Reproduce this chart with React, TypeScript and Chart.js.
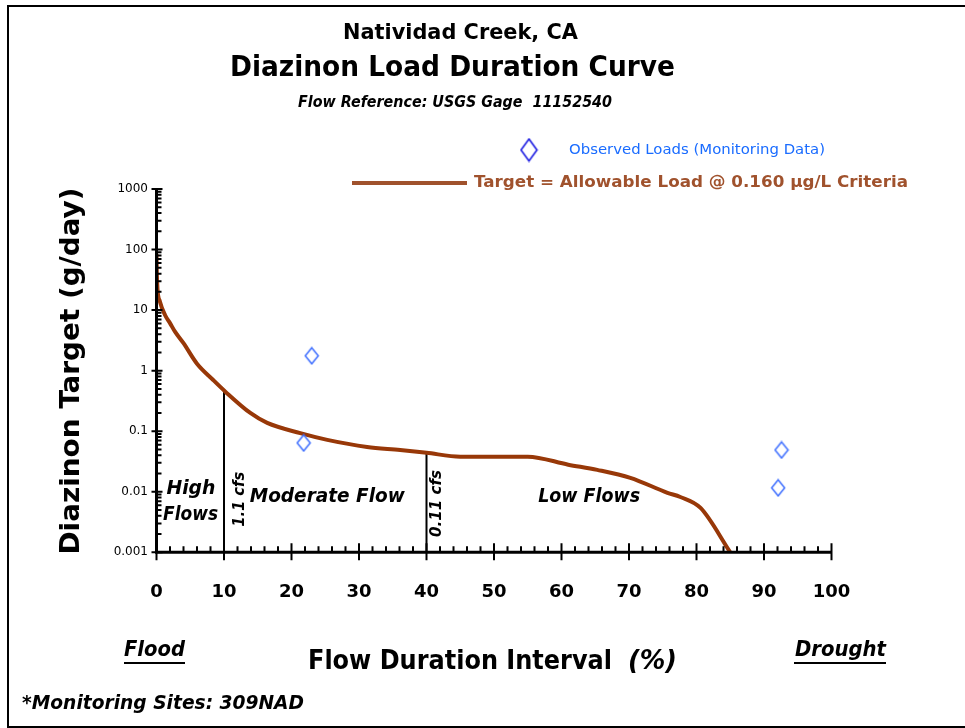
import React, { useEffect, useRef } from "react";
import { Chart, registerables } from "chart.js";

Chart.register(...registerables);

const FONT = '"DejaVu Sans", "Noto Sans", sans-serif';

// Target = allowable load curve (flow duration % vs g/day)
const flowPct = [0, 0.05, 0.15, 0.5, 1.26, 2, 2.74, 4, 6, 8.4, 10.2, 13.9, 16.4, 21.3, 25.3, 31.2, 36.1, 40, 45, 55, 61, 65.3, 70.2, 75.7, 77.6, 80.6, 85];
const targetLoad = [85, 40, 22, 13.9, 8.3, 6.1, 4.4, 2.84, 1.3, 0.7, 0.45, 0.2, 0.137, 0.093, 0.072, 0.055, 0.049, 0.044, 0.038, 0.038, 0.028, 0.023, 0.017, 0.0096, 0.0082, 0.0054, 0.001];

// Observed loads (monitoring data)
const obsPct = [23, 21.8, 92.6, 92.1];
const obsLoad = [1.76, 0.064, 0.049, 0.0116];

// Flow zone boundaries
const boundaryPct = [10, 40];
const boundaryTop = [0.45, 0.044];

const xTickValues = [0, 10, 20, 30, 40, 50, 60, 70, 80, 90, 100];
const yTickLabels = ["0.001", "0.01", "0.1", "1", "10", "100", "1000"];
const yMin = 0.001;
const yMax = 1000;

// Zone annotations: text, x (%), y (g/day), rotated
const zoneText = ["High", "Flows", "Moderate Flow", "Low Flows", "1.1 cfs", "0.11 cfs"];
const zoneX = [5.1, 5.05, 25.3, 64.1, 12.4, 41.6];
const zoneY = [0.0111, 0.0041, 0.0082, 0.0082, 0.0075, 0.0064];
const zoneRot = [false, false, false, false, true, true];

function makeDiamond(w: number, h: number, color: string, lw: number) {
  const c = document.createElement("canvas");
  c.width = w;
  c.height = h;
  const g = c.getContext("2d")!;
  g.strokeStyle = color;
  g.lineWidth = lw;
  g.beginPath();
  g.moveTo(w / 2, lw);
  g.lineTo(w - lw, h / 2);
  g.lineTo(w / 2, h - lw);
  g.lineTo(lw, h / 2);
  g.closePath();
  g.stroke();
  return c;
}

function txt(
  ctx: CanvasRenderingContext2D,
  s: string,
  x: number,
  y: number,
  font: string,
  color: string,
  width?: number,
  align: CanvasTextAlign = "center",
  rot = 0
) {
  ctx.save();
  ctx.font = font;
  ctx.fillStyle = color;
  ctx.textBaseline = "middle";
  ctx.textAlign = align;
  ctx.translate(x, y);
  if (rot) ctx.rotate(rot);
  const w = ctx.measureText(s).width;
  if (width) ctx.scale(width / w, 1);
  ctx.fillText(s, 0, 0);
  ctx.restore();
}

const decor = {
  id: "decor",
  afterDatasetsDraw(chart: any) {
    const { ctx, chartArea: a, scales } = chart;
    const xs = scales.x;
    const ys = scales.y;
    ctx.save();
    ctx.strokeStyle = "#000";
    ctx.lineWidth = 3;
    ctx.beginPath();
    ctx.moveTo(a.left, a.top - 1);
    ctx.lineTo(a.left, a.bottom + 1.5);
    ctx.moveTo(a.left - 1.5, a.bottom);
    ctx.lineTo(a.right, a.bottom);
    ctx.stroke();
    ctx.lineWidth = 2;
    ctx.beginPath();
    for (let d = -3; d <= 3; d++) {
      const y = ys.getPixelForValue(Math.pow(10, d));
      ctx.moveTo(a.left - 5, y);
      ctx.lineTo(a.left + 6, y);
      if (d < 3) {
        for (let m = 2; m <= 9; m++) {
          const yy = ys.getPixelForValue(m * Math.pow(10, d));
          ctx.moveTo(a.left, yy);
          ctx.lineTo(a.left + 5, yy);
        }
      }
    }
    for (let v = 0; v <= 100; v += 2) {
      const x = xs.getPixelForValue(v);
      if (v % 10 === 0) {
        ctx.moveTo(x, a.bottom - 9);
        ctx.lineTo(x, a.bottom + 8);
      } else {
        ctx.moveTo(x, a.bottom - 6);
        ctx.lineTo(x, a.bottom);
      }
    }
    ctx.stroke();

    // zone annotations
    zoneText.forEach((t, i) => {
      const px = xs.getPixelForValue(zoneX[i]);
      const py = ys.getPixelForValue(zoneY[i]);
      if (zoneRot[i]) {
        txt(ctx, t, px, py, `italic bold 15px ${FONT}`, "#000", t.length > 7 ? 67 : 55, "center", -Math.PI / 2);
      } else {
        const widths: Record<string, number> = { High: 49, Flows: 55, "Moderate Flow": 155, "Low Flows": 102 };
        txt(ctx, t, px, py, `italic bold 20px ${FONT}`, "#000", widths[t]);
      }
    });
    ctx.restore();
  },
  afterDraw(chart: any) {
    const { ctx } = chart;
    ctx.save();
    // frame
    ctx.strokeStyle = "#000";
    ctx.lineWidth = 2;
    ctx.beginPath();
    ctx.moveTo(970, 6);
    ctx.lineTo(8, 6);
    ctx.lineTo(8, 727);
    ctx.lineTo(970, 727);
    ctx.stroke();

    // titles
    txt(ctx, "Natividad Creek, CA", 460.5, 34, `bold 21px ${FONT}`, "#000", 235);
    txt(ctx, "Diazinon Load Duration Curve", 452.5, 68, `bold 29px ${FONT}`, "#000", 445);
    txt(ctx, "Flow Reference: USGS Gage  11152540", 455, 103, `italic bold 15px ${FONT}`, "#000", 314);

    // legend
    const dia = makeDiamond(19, 25, "#1010e0", 1.5);
    ctx.drawImage(dia, 529 - 9.5, 150 - 12.5);
    txt(ctx, "Observed Loads (Monitoring Data)", 569, 150, `14px ${FONT}`, "#1a6cff", 256, "left");
    ctx.strokeStyle = "#a0522d";
    ctx.lineWidth = 4;
    ctx.beginPath();
    ctx.moveTo(352, 183);
    ctx.lineTo(467, 183);
    ctx.stroke();
    txt(ctx, "Target = Allowable Load @ 0.160 \u00b5g/L Criteria", 474, 183, `bold 15px ${FONT}`, "#a0522d", 434, "left");

    // axis titles
    txt(ctx, "Diazinon Target (g/day)", 72, 371, `bold 26px ${FONT}`, "#000", 367, "center", -Math.PI / 2);
    txt(ctx, "Flow Duration Interval", 308, 662, `bold 26px ${FONT}`, "#000", 304, "left");
    txt(ctx, "(%)", 628, 662, `italic bold 26px ${FONT}`, "#000", 49, "left");

    // Flood / Drought
    txt(ctx, "Flood", 154.5, 651, `italic bold 21px ${FONT}`, "#000", 61);
    txt(ctx, "Drought", 840.5, 651, `italic bold 21px ${FONT}`, "#000", 91);
    ctx.strokeStyle = "#000";
    ctx.lineWidth = 2;
    ctx.beginPath();
    ctx.moveTo(124, 663);
    ctx.lineTo(185, 663);
    ctx.moveTo(794, 663);
    ctx.lineTo(886, 663);
    ctx.stroke();

    txt(ctx, "*Monitoring Sites: 309NAD", 22, 704, `italic bold 20px ${FONT}`, "#000", 282, "left");
    ctx.restore();
  },
};

export default function App() {
  const ref = useRef<HTMLCanvasElement>(null);
  useEffect(() => {
    const canvas = ref.current!;
    const obsDiamond = makeDiamond(16, 19, "#3f6fff", 1.5);
    const boundarySets = boundaryPct.map((p, i) => ({
      label: "boundary" + i,
      data: [
        { x: p, y: yMin },
        { x: p, y: boundaryTop[i] },
      ],
      borderColor: "#000",
      borderWidth: 2,
      pointRadius: 0,
      showLine: true,
      order: 3,
    }));
    const chart = new Chart(canvas, {
      type: "line",
      data: {
        datasets: [
          ...boundarySets,
          {
            label: "Target = Allowable Load @ 0.160 \u00b5g/L Criteria",
            data: flowPct.map((x, i) => ({ x, y: targetLoad[i] })),
            borderColor: "#983808",
            borderWidth: 4,
            pointRadius: 0,
            cubicInterpolationMode: "monotone",
            showLine: true,
            order: 2,
          },
          {
            label: "Observed Loads (Monitoring Data)",
            data: obsPct.map((x, i) => ({ x, y: obsLoad[i] })),
            showLine: false,
            pointStyle: obsDiamond as any,
            pointRadius: 8,
            borderColor: "#3f6fff",
            backgroundColor: "rgba(0,0,0,0)",
            order: 1,
          },
        ] as any,
      },
      options: {
        responsive: false,
        animation: false,
        devicePixelRatio: 1,
        layout: { padding: { left: 100, right: 133.5, top: 189, bottom: 115.7 } },
        plugins: { legend: { display: false }, tooltip: { enabled: false } },
        scales: {
          x: {
            type: "linear",
            min: 0,
            max: 100,
            afterFit: (s: any) => {
              s.height = 60;
            },
            afterBuildTicks: (s: any) => {
              s.ticks = xTickValues.map((v) => ({ value: v }));
            },
            grid: { display: false, drawTicks: false },
            border: { display: false },
            ticks: {
              autoSkip: false,
              maxRotation: 0,
              padding: 29,
              color: "#000",
              font: { family: FONT, size: 18, weight: "bold" },
              callback: (v: any) => String(v),
            },
          },
          y: {
            type: "logarithmic",
            min: yMin,
            max: yMax,
            afterFit: (s: any) => {
              s.width = 56.5;
            },
            grid: { display: false, drawTicks: false },
            border: { display: false },
            ticks: {
              autoSkip: false,
              padding: 8.5,
              color: "#000",
              font: { family: FONT, size: 12 },
              callback: (v: any) => {
                const l = Math.log10(Number(v));
                if (Math.abs(l - Math.round(l)) < 1e-6) return yTickLabels[Math.round(l) + 3] ?? "";
                return "";
              },
            },
          },
        },
      } as any,
      plugins: [decor],
    });
    return () => chart.destroy();
  }, []);
  return (
    <div style={{ position: "absolute", left: 0, top: 0, width: 965, height: 728, background: "#fff" }}>
      <canvas ref={ref} width={965} height={728} style={{ display: "block", width: 965, height: 728 }} />
    </div>
  );
}
